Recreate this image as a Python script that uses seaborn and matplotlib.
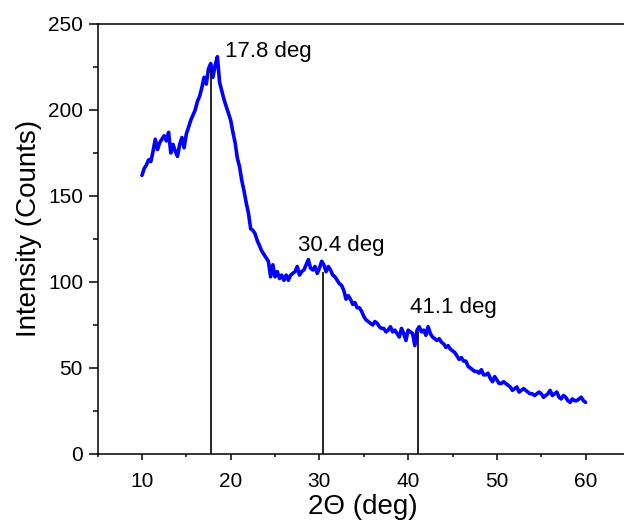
import numpy as np
import matplotlib
matplotlib.use("Agg")
import matplotlib.pyplot as plt
from matplotlib.ticker import MultipleLocator
import seaborn as sns

# XRD scan: 2-theta from 10 to 60 deg in 0.25 deg steps
two_theta = np.arange(10.0, 60.001, 0.25)
counts = [
    162, 166, 168, 171, 170, 176, 183, 177, 181, 183,   # 10.00 - 12.25
    185, 182, 187, 175, 180, 176, 173, 180, 184, 178,   # 12.50 - 14.75
    186, 190, 194, 197, 200, 205, 208, 213, 219, 215,   # 15.00 - 17.25
    224, 227, 219, 226, 231, 216, 211, 206, 202, 198,   # 17.50 - 19.75
    194, 187, 181, 172, 167, 159, 153, 146, 140, 131,   # 20.00 - 22.25
    130, 128, 124, 121, 118, 116, 114, 112, 103, 110,   # 22.50 - 24.75
    103, 106, 102, 104, 101, 104, 101, 104, 105, 106,   # 25.00 - 27.25
    109, 104, 106, 107, 110, 113, 108, 107, 109, 105,   # 27.50 - 29.75
    108, 112, 110, 106, 109, 107, 104, 103, 101, 99,    # 30.00 - 32.25
    98, 95, 90, 92, 90, 87, 88, 85, 85, 83,             # 32.50 - 34.75
    80, 78, 77, 76, 75, 77, 76, 74, 73, 73,             # 35.00 - 37.25
    71, 72, 74, 71, 72, 70, 68, 73, 70, 66,             # 37.50 - 39.75
    72, 71, 70, 63, 72, 74, 71, 72, 69, 74,             # 40.00 - 42.25
    70, 68, 67, 66, 67, 65, 64, 62, 63, 61,             # 42.50 - 44.75
    60, 59, 57, 55, 56, 54, 54, 51, 50, 49,             # 45.00 - 47.25
    48, 48, 47, 49, 46, 46, 47, 44, 42, 45,             # 47.50 - 49.75
    43, 41, 41, 42, 41, 40, 39, 37, 38, 39,             # 50.00 - 52.25
    36, 37, 38, 37, 36, 35, 35, 34, 35, 36,             # 52.50 - 54.75
    35, 33, 34, 35, 37, 34, 35, 36, 33, 32,             # 55.00 - 57.25
    34, 33, 31, 30, 32, 31, 31, 32, 33, 31,             # 57.50 - 59.75
    30,                                                 # 60.00
]

# Indexed reflections
peak_pos = [17.8, 30.4, 41.1]
peak_height = [223, 106, 71]
peak_labels = ["17.8 deg", "30.4 deg", "41.1 deg"]
label_x = [19.35, 27.6, 40.26]
label_y = [230.6, 118.2, 81.8]

sns.set_style("ticks")
plt.rcParams["font.family"] = ["Liberation Sans", "DejaVu Sans"]
for key in ["text.color", "axes.labelcolor", "xtick.color", "ytick.color"]:
    plt.rcParams[key] = "black"

fig = plt.figure(figsize=(6.24, 5.22), dpi=100)
ax = fig.add_axes([0.1564, 0.1303, 0.8532, 0.8238])

sns.lineplot(x=two_theta, y=counts, color="#0000ff", linewidth=2.6, ax=ax)
ax.vlines(peak_pos, 0, peak_height, color="black", linewidth=1.2)
for lx, ly, txt in zip(label_x, label_y, peak_labels):
    ax.text(lx, ly, txt, fontsize=16, ha="left", va="baseline", color="black")

ax.set_xlim(5, 65)
ax.set_ylim(0, 250)
ax.xaxis.set_major_locator(MultipleLocator(10))
ax.xaxis.set_minor_locator(MultipleLocator(5))
ax.yaxis.set_major_locator(MultipleLocator(50))
ax.yaxis.set_minor_locator(MultipleLocator(25))
ax.set_xticks([10, 20, 30, 40, 50, 60])

ax.tick_params(axis="x", which="major", direction="out", length=4, width=1.1,
               pad=9, labelsize=15, top=False)
ax.tick_params(axis="x", which="minor", direction="out", length=2.5, width=1.1, top=False)
ax.tick_params(axis="y", which="major", direction="out", length=6.5, width=1.1,
               pad=4, labelsize=15, right=False)
ax.tick_params(axis="y", which="minor", direction="out", length=3.5, width=1.1, right=False)

for side in ["left", "bottom", "top", "right"]:
    ax.spines[side].set_visible(True)
    ax.spines[side].set_linewidth(1.1)
    ax.spines[side].set_color("black")

ax.set_xlabel("2\u0398 (deg)", fontsize=20)
ax.set_ylabel("Intensity (Counts)", fontsize=20)
ax.xaxis.set_label_coords(0.4985, -0.094)
ax.yaxis.set_label_coords(-0.1035, 0.5256)

fig.savefig("out.png", dpi=100)
